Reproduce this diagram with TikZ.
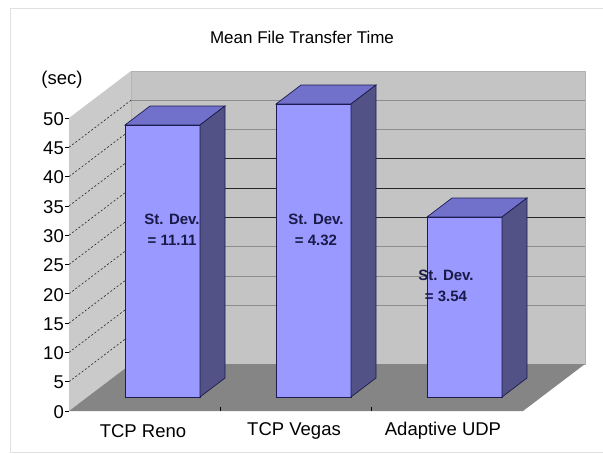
\documentclass[tikz,border=0pt]{standalone}
\usepackage{fontspec}
\setmainfont{Liberation Sans}
\usetikzlibrary{calc}

\definecolor{wallgray}{HTML}{C4C4C4}
\definecolor{sidegray}{HTML}{CACACA}
\definecolor{floorgray}{HTML}{858585}
\definecolor{barfront}{HTML}{9999FF}
\definecolor{barside}{HTML}{525286}
\definecolor{bartop}{HTML}{7171CC}
\definecolor{barline}{HTML}{1C1C50}
\definecolor{labelblue}{HTML}{1A1A48}

\tikzset{
  gridline/.style={draw=black!45,line width=0.8pt},
  darkline/.style={draw=black!85,line width=1.1pt},
  walldash/.style={draw=black!85,line width=0.6pt,dash pattern=on 2pt off 2pt},
  colfront/.style={fill=barfront,draw=barline,line width=0.7pt},
  colside/.style={fill=barside,draw=barline,line width=0.7pt},
  coltop/.style={fill=bartop,draw=barline,line width=0.7pt},
  axislabel/.style={font=\fontsize{18.5}{21}\selectfont,inner sep=0pt},
  sdlabel/.style={font=\fontsize{15}{21}\selectfont\bfseries,text=labelblue,align=center,inner sep=0pt}
}

% top and front of a column: left x, top y
\newcommand{\colfront}[2]{%
  \draw[coltop] (#1,#2) -- ++(25,-19) -- ++(75,0) -- ++(-25,19) -- cycle;
  \draw[colfront] (#1,397) rectangle (#1+75,#2);
}
% side of a column: left x, top y
\newcommand{\colside}[2]{%
  \draw[colside] (#1+75,397) -- ++(25,-19) -- (#1+100,#2-19) -- (#1+75,#2) -- cycle;
}

\begin{document}
\begin{tikzpicture}[x=1pt,y=-1pt]
  \useasboundingbox (0,0) rectangle (603,453);
  % faint frame
  \draw[black!12,line width=0.8pt] (603,8) -- (10,8) -- (10,452) -- (603,452);

  % walls and floor
  \coordinate (fl) at (69,411);
  \coordinate (fr) at (523,411);
  \coordinate (bl) at (131,364);
  \coordinate (br) at (585,364);
  \coordinate (tl) at (131,71);
  \coordinate (tr) at (585,71);
  \coordinate (sl) at (69,118);
  \filldraw[fill=wallgray,draw=black!30,line width=0.6pt] (bl) rectangle (tr);
  \foreach \k in {2,3,4,8,9}
    \draw[gridline] (131,{364-29.3*\k}) -- (585,{364-29.3*\k});
  \foreach \k in {5,6,7}
    \draw[darkline] (131,{364-29.3*\k}) -- (585,{364-29.3*\k});
  \fill[sidegray] (fl) -- (bl) -- (tl) -- (sl) -- cycle;
  \foreach \k in {1,...,9}
    \draw[walldash] (69,{411-29.3*\k}) -- ++(62,-47);
  \fill[floorgray] (fl) -- (fr) -- (br) -- (bl) -- cycle;

  % value axis
  \foreach \v [count=\k from 0] in {0,5,...,50} {
    \draw[black,line width=0.7pt] (65,{411-29.3*\k}) -- (69,{411-29.3*\k});
    \node[axislabel,anchor=east] (tick\k) at (64,{412-29.3*\k}) {\v};
  }
  \node[axislabel] (unit) at (62,80) {(sec)};
  \node[font=\fontsize{17}{20}\selectfont,inner sep=0pt] (title) at (302,37) {Mean File Transfer Time};

  % category axis
  \draw[black,line width=0.8pt] (220,407) -- (220,411);
  \draw[black,line width=0.8pt] (371,407) -- (371,411);
  \node[axislabel] (reno) at (143,431) {TCP Reno};
  \node[axislabel] (vegas) at (294,431) {TCP Vegas};
  \node[axislabel] (udp) at (443,431) {Adaptive UDP};

  % columns
  \colfront{125}{125}
  \colfront{276}{104}
  \colfront{427}{217}
  \node[sdlabel] (sdreno) at (172,230) {St. Dev.\\= 11.11};
  \node[sdlabel] (sdvegas) at (316,230) {St. Dev.\\= 4.32};
  \node[sdlabel] (sdudp) at (446,286) {St. Dev.\\= 3.54};
  \colside{125}{125}
  \colside{276}{104}
  \colside{427}{217}
\end{tikzpicture}
\end{document}
